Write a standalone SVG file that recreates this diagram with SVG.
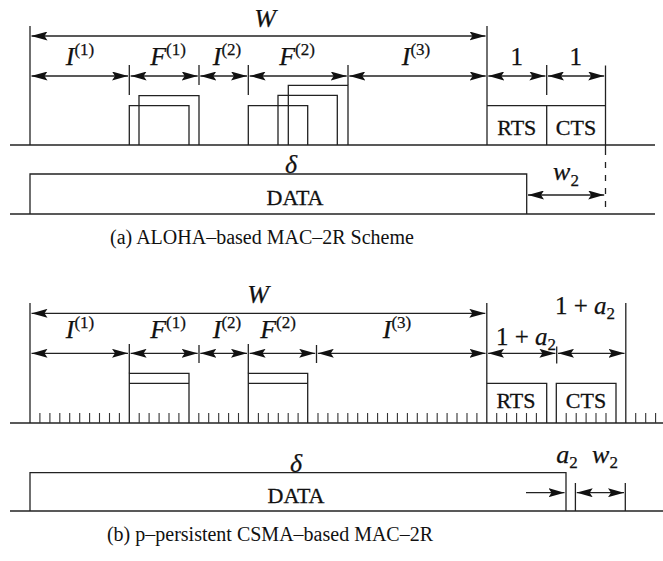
<svg xmlns="http://www.w3.org/2000/svg" width="663" height="561" viewBox="0 0 663 561">
<style>
.ln{stroke:#222;stroke-width:1.3;fill:none}
.bl{stroke:#222;stroke-width:1.6;fill:none}
.ar{stroke:#222;stroke-width:1.3;fill:none;marker-start:url(#ah);marker-end:url(#ah)}
.ae{stroke:#222;stroke-width:1.3;fill:none;marker-end:url(#ah)}
.tk{stroke:#333;stroke-width:1.1}
.m{font-family:"Liberation Serif","DejaVu Serif",serif;font-style:italic;font-size:26px;fill:#111;stroke:#111;stroke-width:0.25}
.s{font-style:normal;font-size:17px}
.t{font-family:"Liberation Serif","DejaVu Serif",serif;font-size:22px;fill:#111;stroke:#111;stroke-width:0.3}
.c{font-family:"Liberation Serif","DejaVu Serif",serif;font-size:20px;fill:#111}
.n{font-family:"Liberation Serif","DejaVu Serif",serif;font-size:25px;fill:#111;stroke:#111;stroke-width:0.25}
</style>
<defs>
<marker id="ah" viewBox="0 0 16 9" refX="16" refY="4.5" markerWidth="16" markerHeight="9" orient="auto-start-reverse" markerUnits="userSpaceOnUse"><path d="M0,0 L16,4.5 L0,9 L3,4.5 z" fill="#111"/></marker>
</defs>

<!-- ================= (a) ================= -->
<g id="a-frame">
<line class="bl" x1="10" y1="145" x2="655" y2="145"/>
<line class="ln" x1="30" y1="26" x2="30" y2="145"/>
<line class="ln" x1="487" y1="26" x2="487" y2="145"/>
<line class="ln" x1="129.3" y1="65" x2="129.3" y2="95"/>
<line class="ln" x1="199" y1="65" x2="199" y2="85"/>
<line class="ln" x1="248.3" y1="65" x2="248.3" y2="95"/>
<line class="ln" x1="348" y1="65" x2="348" y2="85"/>
<line class="ln" x1="546.7" y1="65" x2="546.7" y2="95"/>
<line class="ln" x1="605.5" y1="65.5" x2="605.5" y2="149"/>
<line class="ln" x1="605.5" y1="149" x2="605.5" y2="214" stroke-dasharray="6,7"/>
<line class="bl" x1="10" y1="214" x2="655" y2="214"/>
</g>
<g id="a-F1-boxes">
<polyline class="ln" points="129.3,145 129.3,105.7 189,105.7 189,145"/>
<polyline class="ln" points="139,145 139,95.7 199,95.7 199,145"/>
</g>
<g id="a-F2-boxes">
<polyline class="ln" points="248.3,145 248.3,105.7 307.7,105.7 307.7,145"/>
<polyline class="ln" points="278,145 278,95.3 337.3,95.3 337.3,145"/>
<polyline class="ln" points="288.3,145 288.3,85.3 348,85.3 348,145"/>
</g>
<g id="a-RTS">
<polyline class="ln" points="487,105.7 546.7,105.7 546.7,145"/>
<text class="t" x="516.8" y="135" text-anchor="middle">RTS</text>
</g>
<g id="a-CTS">
<line class="ln" x1="546.7" y1="105.7" x2="605.5" y2="105.7"/>
<text class="t" x="576" y="135" text-anchor="middle">CTS</text>
</g>
<g id="a-DATA">
<polyline class="ln" points="30,214 30,174 526.7,174 526.7,214"/>
<text class="t" x="295" y="205" text-anchor="middle">DATA</text>
</g>
<g id="a-connectors">
<line class="ar" x1="31.5" y1="36" x2="485.5" y2="36"/>
<line class="ar" x1="31.5" y1="76" x2="128" y2="76"/>
<line class="ar" x1="130.6" y1="76" x2="197.7" y2="76"/>
<line class="ar" x1="200.3" y1="76" x2="247" y2="76"/>
<line class="ar" x1="249.6" y1="76" x2="346.7" y2="76"/>
<line class="ar" x1="349.3" y1="76" x2="485.7" y2="76"/>
<line class="ar" x1="488.3" y1="76" x2="545.4" y2="76"/>
<line class="ar" x1="548" y1="76" x2="604.2" y2="76"/>
<line class="ar" x1="528" y1="195" x2="604.2" y2="195"/>
</g>
<g id="a-labels">
<text class="m" x="265" y="27" text-anchor="middle">W</text>
<text class="m" x="80" y="65" text-anchor="middle">I<tspan class="s" dy="-10">(1)</tspan></text>
<text class="m" x="168" y="65" text-anchor="middle">F<tspan class="s" dy="-10">(1)</tspan></text>
<text class="m" x="227" y="65" text-anchor="middle">I<tspan class="s" dy="-10">(2)</tspan></text>
<text class="m" x="297" y="65" text-anchor="middle">F<tspan class="s" dy="-10">(2)</tspan></text>
<text class="m" x="416" y="65" text-anchor="middle">I<tspan class="s" dy="-10">(3)</tspan></text>
<text class="n" x="516.7" y="65" text-anchor="middle">1</text>
<text class="n" x="575.7" y="65" text-anchor="middle">1</text>
<text class="m" x="291" y="173" text-anchor="middle">δ</text>
<text class="m" x="566" y="180" text-anchor="middle">w<tspan class="s" dy="6">2</tspan></text>
<text class="c" x="262" y="244" text-anchor="middle">(a) ALOHA–based MAC–2R Scheme</text>
</g>

<!-- ================= (b) ================= -->
<g id="b-frame">
<line class="bl" x1="10" y1="423" x2="663" y2="423"/>
<line class="ln" x1="30" y1="303" x2="30" y2="423"/>
<line class="ln" x1="486.8" y1="303" x2="486.8" y2="423"/>
<line class="ln" x1="625.8" y1="303" x2="625.8" y2="423"/>
<line class="ln" x1="199" y1="345" x2="199" y2="363"/>
<line class="ln" x1="316.5" y1="345" x2="316.5" y2="363"/>
<line class="ln" x1="556.7" y1="346.5" x2="556.7" y2="363.5"/>
<line class="bl" x1="10" y1="511" x2="663" y2="511"/>
<line class="ln" x1="575.4" y1="483" x2="575.4" y2="511"/>
<line class="ln" x1="625.3" y1="483" x2="625.3" y2="511"/>
</g>
<g id="b-slots">
<path class="tk" d="M39.9,413V423M49.9,413V423M59.8,413V423M69.7,413V423M79.7,413V423M89.6,413V423M99.5,413V423M109.5,413V423M119.4,413V423M139.2,413V423M149.1,413V423M159.1,413V423M169.0,413V423M178.9,413V423M198.8,413V423M208.7,413V423M218.7,413V423M228.6,413V423M238.5,413V423M258.4,413V423M268.3,413V423M278.3,413V423M288.2,413V423M298.1,413V423M318.0,413V423M327.9,413V423M337.9,413V423M347.8,413V423M357.7,413V423M367.6,413V423M377.6,413V423M387.5,413V423M397.4,413V423M407.4,413V423M417.3,413V423M427.2,413V423M437.2,413V423M447.1,413V423M457.0,413V423M467.0,413V423M476.9,413V423M496.7,413V423M506.6,413V423M516.6,413V423M526.5,413V423M536.4,413V423M566.2,413V423M576.2,413V423M586.1,413V423M596.0,413V423M606.0,413V423M635.7,413V423M645.7,413V423M655.6,413V423"/>
</g>
<g id="b-F1-box">
<polyline class="ln" points="129.3,423 129.3,373.3 189,373.3 189,423"/>
<line class="ln" x1="129.3" y1="383.3" x2="189" y2="383.3"/>
<line class="ln" x1="129.3" y1="344" x2="129.3" y2="373.3"/>
</g>
<g id="b-F2-box">
<polyline class="ln" points="248.3,423 248.3,373.3 307.7,373.3 307.7,423"/>
<line class="ln" x1="248.3" y1="383.3" x2="307.7" y2="383.3"/>
<line class="ln" x1="248.3" y1="344" x2="248.3" y2="373.3"/>
</g>
<g id="b-RTS">
<polyline class="ln" points="486.8,383.3 546.7,383.3 546.7,423"/>
<text class="t" x="516" y="408" text-anchor="middle">RTS</text>
</g>
<g id="b-CTS">
<polyline class="ln" points="556.3,423 556.3,383.3 616,383.3 616,423"/>
<text class="t" x="586" y="408" text-anchor="middle">CTS</text>
</g>
<g id="b-DATA">
<polyline class="ln" points="30,511 30,472.7 566,472.7 566,511"/>
<text class="t" x="296" y="503" text-anchor="middle">DATA</text>
</g>
<g id="b-connectors">
<line class="ar" x1="31.5" y1="313.3" x2="485.3" y2="313.3"/>
<line class="ar" x1="31.5" y1="353.3" x2="128" y2="353.3"/>
<line class="ar" x1="130.6" y1="353.3" x2="197.7" y2="353.3"/>
<line class="ar" x1="200.3" y1="353.3" x2="247" y2="353.3"/>
<line class="ar" x1="249.6" y1="353.3" x2="315.2" y2="353.3"/>
<line class="ar" x1="317.8" y1="353.3" x2="485.5" y2="353.3"/>
<line class="ar" x1="488.1" y1="353.3" x2="555.4" y2="353.3"/>
<line class="ar" x1="558" y1="353.3" x2="624.5" y2="353.3"/>
<line class="ae" x1="526" y1="492.7" x2="564.5" y2="492.7"/>
<line class="ar" x1="576.7" y1="492.7" x2="624" y2="492.7"/>
</g>
<g id="b-labels">
<text class="m" x="258" y="303" text-anchor="middle">W</text>
<text class="m" x="80" y="338" text-anchor="middle">I<tspan class="s" dy="-10">(1)</tspan></text>
<text class="m" x="168" y="338" text-anchor="middle">F<tspan class="s" dy="-10">(1)</tspan></text>
<text class="m" x="227" y="338" text-anchor="middle">I<tspan class="s" dy="-10">(2)</tspan></text>
<text class="m" x="278" y="338" text-anchor="middle">F<tspan class="s" dy="-10">(2)</tspan></text>
<text class="m" x="397" y="338" text-anchor="middle">I<tspan class="s" dy="-10">(3)</tspan></text>
<text class="n" x="585" y="314" text-anchor="middle">1 + <tspan font-style="italic">a</tspan><tspan class="s" dy="5">2</tspan></text>
<text class="n" x="526" y="345" text-anchor="middle">1 + <tspan font-style="italic">a</tspan><tspan class="s" dy="5">2</tspan></text>
<text class="m" x="296" y="472" text-anchor="middle">δ</text>
<text class="m" x="567" y="463" text-anchor="middle">a<tspan class="s" dy="5">2</tspan></text>
<text class="m" x="605" y="463" text-anchor="middle">w<tspan class="s" dy="5">2</tspan></text>
<text class="c" x="270" y="541" text-anchor="middle">(b) p–persistent CSMA–based MAC–2R</text>
</g>
</svg>
